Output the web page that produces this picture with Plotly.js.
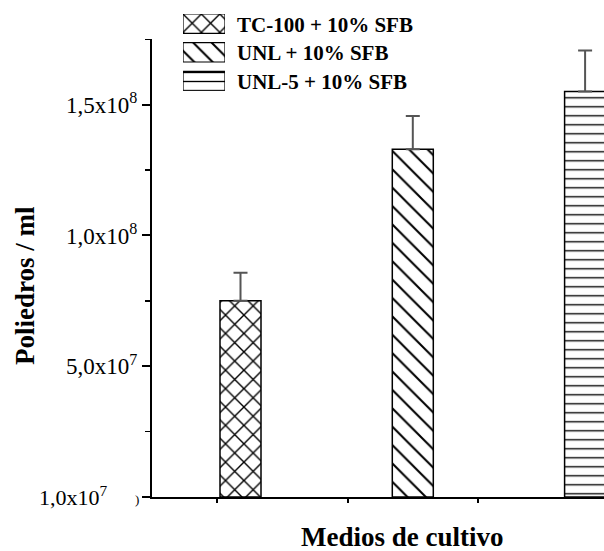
<!DOCTYPE html>
<html>
<head>
<meta charset="utf-8">
<script src="https://cdn.plot.ly/plotly-3.0.1.min.js"></script>
<style>html,body{margin:0;padding:0;background:#fff;}#chart{width:604px;height:551px;}</style>
</head>
<body>
<div id="chart"></div>
<script>
// ---- data ----
const categories = ['TC-100 + 10% SFB', 'UNL + 10% SFB', 'UNL-5 + 10% SFB'];
const values = [7.5e7, 1.33e8, 1.55e8];
const errPlus = [1.07e7, 1.27e7, 1.57e7];
const yTickVals = [0, 5e7, 1e8, 1.5e8];
const yTickText = ['', '5,0x10<sup>7</sup>', '1,0x10<sup>8</sup>', '1,5x10<sup>8</sup>'];
const bottomLabel = '1,0x10<sup>7</sup>';
const xTitle = 'Medios de cultivo';
const yTitle = 'Poliedros / ml';

// ---- styles ----
const SERIF = 'Liberation Serif, serif';
const patternShapes = ['x', '\\', '-'];
const patternSizes = [13, 13, 9];
const patternSolidity = [0.2, 0.16, 0.15];

const W = 604, H = 551, B = 54;
const PH = H - B; // plot area height (t=0)
const py = p => (PH - p) / PH;  // pixel y -> paper
const px = p => p / W;          // pixel x -> paper

const traces = [];
categories.forEach((c, i) => {
  traces.push({
    type: 'bar',
    x: [i + 1],
    y: [values[i]],
    width: 0.238,
    marker: {
      color: 'white',
      line: {color: 'black', width: 1.5},
      pattern: {shape: patternShapes[i], size: patternSizes[i], solidity: patternSolidity[i], fgcolor: 'black', bgcolor: 'white'}
    },
    error_y: {type: 'data', symmetric: false, array: [errPlus[i]], arrayminus: [0], color: '#555', thickness: 2, width: 7},
    showlegend: false,
    hoverinfo: 'none',
    xaxis: 'x', yaxis: 'y'
  });
  // legend swatch
  traces.push({
    type: 'bar',
    orientation: 'h',
    x: [1],
    y: [i],
    base: 0,
    width: 0.672,
    marker: {
      color: 'white',
      line: {color: 'black', width: 1.2},
      pattern: {shape: patternShapes[i], size: patternSizes[i], solidity: patternSolidity[i], fgcolor: 'black', bgcolor: 'white'}
    },
    cliponaxis: false,
    showlegend: false,
    hoverinfo: 'none',
    xaxis: 'x2', yaxis: 'y2'
  });
});

const annotations = categories.map((c, i) => ({
  text: '<b>' + c + '</b>', xref: 'paper', yref: 'paper',
  x: px(235), y: py(24.5 + i * 28.5), xanchor: 'left', yanchor: 'middle',
  showarrow: false, font: {family: SERIF, size: 21, color: 'black'}
}));
annotations.push({
  text: '<b>' + yTitle + '</b>', xref: 'paper', yref: 'paper', x: px(25), y: py(286),
  xanchor: 'center', yanchor: 'middle', textangle: -90, showarrow: false,
  font: {family: SERIF, size: 27, color: 'black'}
});
annotations.push({
  text: '<b>' + xTitle + '</b>', xref: 'paper', yref: 'paper', x: px(402), y: py(537),
  xanchor: 'center', yanchor: 'middle', showarrow: false,
  font: {family: SERIF, size: 27, color: 'black'}
});
annotations.push({
  text: bottomLabel, xref: 'paper', yref: 'paper', x: px(110), y: py(496),
  xanchor: 'right', yanchor: 'middle', showarrow: false,
  font: {family: SERIF, size: 22, color: 'black'}
});
annotations.push({
  text: ')', xref: 'paper', yref: 'paper', x: px(141), y: py(499),
  xanchor: 'right', yanchor: 'middle', showarrow: false,
  font: {family: SERIF, size: 13, color: 'black'}
});

const layout = {
  width: W, height: H,
  margin: {l: 0, r: 0, t: 0, b: B, pad: 0},
  paper_bgcolor: 'white', plot_bgcolor: 'white',
  showlegend: false,
  font: {family: SERIF, color: 'black'},
  xaxis: {
    domain: [152 / W, 1], range: [0.48636, 3.1097],
    showline: true, linecolor: 'black', linewidth: 2,
    ticks: 'outside', ticklen: 4, tickwidth: 1.5, tickcolor: 'black',
    tickmode: 'array', tickvals: [0.8636, 1.6239, 2.3784],
    showticklabels: false, showgrid: false, zeroline: false, fixedrange: true
  },
  yaxis: {
    domain: [0, py(39.3)], range: [0, 1.75e8],
    showline: true, linecolor: 'black', linewidth: 2,
    ticks: 'outside', ticklen: 8, tickwidth: 2, tickcolor: 'black',
    tickmode: 'array', tickvals: yTickVals, ticktext: yTickText,
    tickfont: {family: SERIF, size: 23, color: 'black'},
    minor: {tickmode: 'linear', tick0: 2.5e7, dtick: 5e7, ticks: 'outside', ticklen: 5, tickwidth: 1.5, tickcolor: 'black', showgrid: false},
    showgrid: false, zeroline: false, fixedrange: true
  },
  xaxis2: {domain: [183 / W, 225 / W], range: [0, 1], visible: false, fixedrange: true},
  yaxis2: {domain: [py(90.7), py(14)], range: [2.336, -0.336], visible: false, fixedrange: true},
  annotations: annotations
};

Plotly.newPlot('chart', traces, layout, {displayModeBar: false, staticPlot: true});
</script>
</body>
</html>
